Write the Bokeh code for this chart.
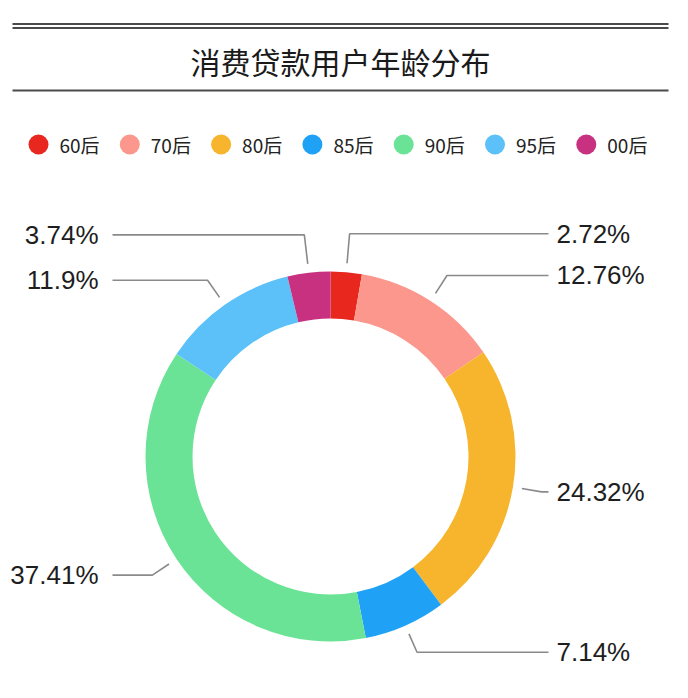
import math
from bokeh.plotting import figure
from bokeh.models import Range1d
from bokeh.core.properties import value
from bokeh.embed import file_html
from bokeh.resources import INLINE

# ---- data ----
title = "消费贷款用户年龄分布"
categories = ["60后", "70后", "80后", "85后", "90后", "95后", "00后"]
shares = [2.72, 12.76, 24.32, 7.14, 37.41, 11.9, 3.74]
colors = ["#e8281f", "#fb978c", "#f6b52d", "#1fa2f6", "#6be396", "#5dc1f9", "#c8317f"]

# ---- layout (page pixel coordinates; y data = -pixel y) ----
W, H = 672, 682
p = figure(width=W, height=H, output_backend="svg", toolbar_location=None,
           x_range=Range1d(0, W), y_range=Range1d(-H, 0),
           x_axis_type=None, y_axis_type=None, min_border=0)
p.grid.visible = False
p.outline_line_color = None
p.background_fill_color = "white"

# title bar
lc = "#4a4a4a"
p.segment(x0=[12, 12, 12], x1=[668, 668, 668], y0=[-23.5, -27.5, -90], y1=[-23.5, -27.5, -90],
          line_color=lc, line_width=2.2)
p.text(x=[340], y=[-60], text=[title], text_font=value("Noto Sans CJK SC"),
       text_font_size="30px", text_align="center", text_baseline="middle",
       text_color="#1a1a1a", text_font_style="normal")

# legend
lx = [38 + i * 91.3 for i in range(len(categories))]
p.scatter(x=lx, y=[-144] * len(categories), size=20, color=colors, line_color=None)
p.text(x=[v + 21 for v in lx], y=[-144] * len(categories), text=categories,
       text_font=value("Noto Sans CJK SC"), text_font_size="19px",
       text_baseline="middle", text_color="#222222")

# donut
cx, cy = 330, -456
r_out, r_in = 185, 138
total = sum(shares)
starts, ends, mids = [], [], []
cum = 0.0
for s in shares:
    a0 = math.pi / 2 - cum / total * 2 * math.pi
    cum += s
    a1 = math.pi / 2 - cum / total * 2 * math.pi
    starts.append(a0)
    ends.append(a1)
    mids.append((a0 + a1) / 2)
p.annular_wedge(x=cx, y=cy, inner_radius=r_in, outer_radius=r_out,
                start_angle=starts, end_angle=ends, direction="clock",
                fill_color=colors, line_color=None)

# leader lines & labels
r1, r2 = 194, 214
xs, ys = [], []
rx, ry, rt = [], [], []
lx2, ly2, lt = [], [], []
for s, a in zip(shares, mids):
    x1, y1 = cx + r1 * math.cos(a), cy + r1 * math.sin(a)
    # near-vertical leaders reach a little higher
    r_el = r2 + 10 * max(0.0, math.sin(a)) ** 12
    x2, y2 = cx + r_el * math.cos(a), cy + r_el * math.sin(a)
    right = math.cos(a) >= 0
    x3 = 548 if right else 112
    xs.append([x1, x2, x3])
    ys.append([y1, y2, y2])
    label = f"{s:g}%"
    if right:
        rx.append(556); ry.append(y2); rt.append(label)
    else:
        lx2.append(98); ly2.append(y2); lt.append(label)
p.multi_line(xs=xs, ys=ys, line_color="#8a8a8a", line_width=1.6)
p.text(x=rx, y=ry, text=rt, text_font=value("Liberation Sans"), text_font_size="26px",
       text_baseline="middle", text_align="left", text_color="#1e1e1e")
p.text(x=lx2, y=ly2, text=lt, text_font=value("Liberation Sans"), text_font_size="26px",
       text_baseline="middle", text_align="right", text_color="#1e1e1e")

open("out.html", "w").write(file_html(p, INLINE))
